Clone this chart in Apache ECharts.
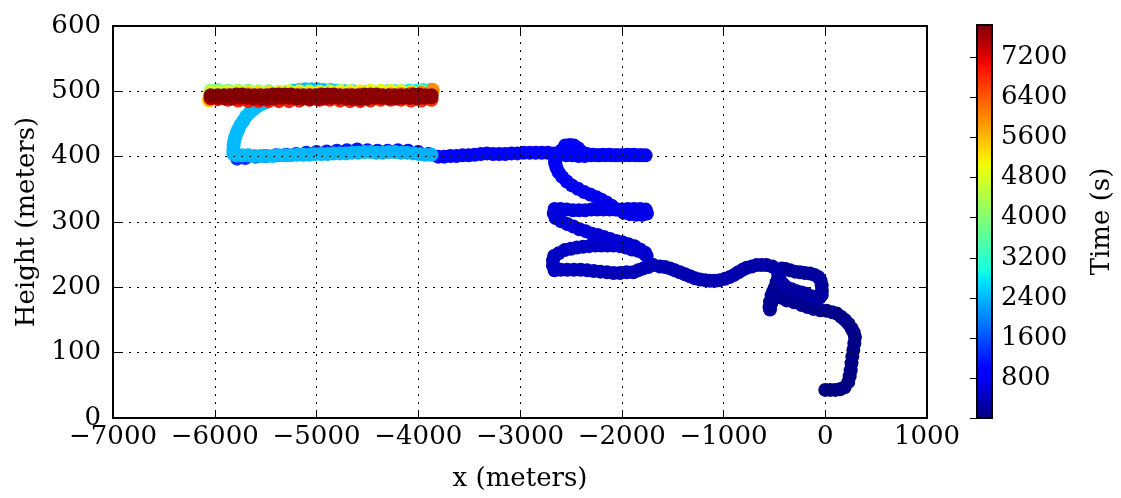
<!DOCTYPE html>
<html>
<head>
<meta charset="utf-8">
<script src="https://cdn.jsdelivr.net/npm/echarts@6/dist/echarts.min.js"></script>
<style>
  html, body { margin: 0; padding: 0; background: #ffffff; }
  #chart { width: 1121px; height: 498px; }
</style>
</head>
<body>
<div id="chart"></div>
<script>
// Flight track samples: [x (m), height (m), time (s)], listed in time order.

// Take-off area, loops near the origin and the low westward run
const launch = [
  [0,43,0],[50,43,4],[100,43,8],[145,44,12],[190,47,16],[226,55,20],[240,64,24],[250,73,28],
  [258,84,32],[266,94,36],[276,104,40],[286,114,44],[292,124,48],[280,131,52],[259,137,56],
  [230,144,60],[194,150,64],[155,155,68],[112,160,72],[65,162,76],[14,164,80],[-50,165,84],
  [-117,167,88],[-175,170,92],[-232,173,96],[-305,177,100],[-379,180,104],[-430,184,108],
  [-477,188,112],[-520,184,116],[-543,178,120],[-548,170,124],[-543,166,128],[-530,176,132],
  [-527,188,136],[-510,194,140],[-494,200,144],[-478,208,148],[-461,216,152],[-445,223,156],
  [-428,229,160],[-390,228,164],[-346,226,168],[-297,224,172],[-248,223,176],[-200,222,180],
  [-150,221,184],[-105,219,188],[-68,216,192],[-45,210,196],[-35,203,200],[-33,195,204],
  [-35,188,208],[-55,184,212],[-84,183,216],[-130,186,220],[-183,190,224],[-232,192,228],
  [-281,194,232],[-330,197,236],[-379,200,240],[-415,205,244],[-445,211,248],[-458,217,252],
  [-470,225,256],[-520,232,260],[-576,234,264],[-625,234,268],[-674,234,272],[-722,232,276],
  [-772,230,280],[-812,227,284],[-854,223,288],[-895,219,292],[-936,216,296],[-985,213,300],
  [-1034,211,304],[-1083,210,308],[-1133,210,312],[-1182,211,316],[-1231,212,320],[-1280,214,324],
  [-1329,217,328],[-1378,220,332],[-1428,223,336],[-1477,226,340],[-1526,229,344],[-1575,231,348],
  [-1624,232,352],[-1690,234,356],[-1740,231,360],[-1788,229,364],[-1840,226,368],[-1887,223,372],
  [-1950,223,376],[-2017,222,380]
];

// Zig-zag climb between 220 m and 400 m
const zigzag = [
  [-2080,222,385],[-2145,223,390],[-2210,224,395],[-2275,225,400],[-2340,226,405],[-2405,227,410],
  [-2470,227,415],[-2535,227,420],[-2600,227,425],[-2660,226,430],[-2676,233,435],[-2676,241,440],
  [-2665,248,445],[-2620,252,450],[-2560,257,455],[-2500,259,460],[-2440,261,465],[-2380,262,470],
  [-2320,263,475],[-2260,264,480],[-2200,264,485],[-2140,264,490],[-2080,264,495],[-2020,263,500],
  [-1960,261,505],[-1900,258,510],[-1840,256,515],[-1790,253,520],[-1755,248,525],
  [-1770,253,530],[-1820,258,535],[-1875,263,540],[-1935,266,545],[-1995,269,550],[-2055,271,555],
  [-2115,274,560],[-2175,277,565],[-2235,280,570],[-2295,282,575],[-2355,286,580],[-2415,289,585],
  [-2475,293,590],[-2535,297,595],[-2595,301,600],[-2650,306,605],
  [-2668,313,610],[-2660,320,615],[-2600,320,620],[-2540,319,625],[-2480,318,630],[-2420,318,635],
  [-2360,318,640],[-2300,319,645],[-2240,319,650],[-2180,319,655],[-2120,319,660],[-2060,319,665],
  [-2000,319,670],[-1940,320,675],[-1880,320,680],[-1820,320,685],[-1765,319,690],[-1752,313,695],
  [-1800,311,700],[-1860,311,705],[-1920,312,710],[-1980,314,715],[-2040,319,720],
  [-2100,325,725],[-2150,330,730],[-2200,334,735],[-2250,338,740],[-2310,342,745],[-2370,346,750],
  [-2430,351,755],[-2490,356,760],[-2540,362,765],[-2585,369,770],[-2620,376,775],[-2642,383,780],
  [-2654,390,785],[-2656,396,790],
  [-2630,402,795],[-2590,410,798],[-2555,417,801],[-2510,418,804],[-2470,417,807],[-2430,413,810],
  [-2390,407,813],[-2340,404,816],[-2280,403,818],[-2220,402,820],[-2160,402,822],[-2100,402,824],
  [-2040,402,826],[-1980,402,828],[-1920,402,830],[-1860,402,832],[-1800,402,834],[-1765,402,836]
];

// First westward run at 400 m
const westRun400 = [
  [-1825,402,840],[-1885,403,845],[-1945,403,850],[-2005,402,855],[-2065,402,860],[-2125,403,865],
  [-2185,403,870],[-2245,402,875],[-2305,402,880],[-2365,401,885],[-2425,401,890],[-2485,402,895],
  [-2545,402,900],[-2605,403,905],[-2665,405,910],[-2725,406,915],[-2785,406,920],[-2845,406,925],
  [-2905,406,930],[-2965,406,935],[-3025,405,940],[-3085,405,945],[-3145,404,950],[-3205,404,955],
  [-3265,404,960],[-3325,405,965],[-3385,404,970],[-3445,403,975],[-3505,402,980],[-3565,402,985],
  [-3625,401,990],[-3685,401,995],[-3745,400,1000],[-3805,400,1005],
  [-3900,404,1025],[-4000,407,1045],[-4100,409,1065],[-4200,410,1085],[-4300,409,1105],
  [-4400,409,1125],[-4500,410,1145],[-4600,411,1165],[-4700,410,1185],[-4800,409,1205],
  [-4900,408,1225],[-5000,407,1245],[-5100,406,1265],[-5200,404,1285],[-5300,403,1300],
  [-5400,402,1315],[-5500,401,1325],[-5600,400,1335],[-5700,398,1345],[-5780,397,1350]
];

// Later westward run at 400 m
const westRun400b = [
  [-3870,403,2330],[-3930,403,2333],[-3990,404,2336],[-4050,405,2339],[-4110,406,2342],
  [-4170,406,2345],[-4230,407,2348],[-4290,407,2351],[-4350,406,2354],[-4410,406,2357],
  [-4470,407,2360],[-4530,407,2363],[-4590,406,2366],[-4650,406,2369],[-4710,405,2372],
  [-4770,405,2375],[-4830,405,2378],[-4890,404,2381],[-4950,404,2384],[-5010,404,2387],
  [-5070,403,2390],[-5130,403,2392],[-5190,403,2394],[-5250,402,2396],[-5310,402,2398],
  [-5370,402,2400],[-5430,401,2402],[-5490,401,2404],[-5550,401,2406],[-5610,401,2408],
  [-5670,402,2410],[-5730,402,2411],[-5790,402,2412]
];

// Turn and climb from 400 m up to 500 m, then east
const climbTo500 = [
  [-5817,404,2414],[-5817,410,2416],[-5815,417,2418],[-5810,423,2420],[-5801,429,2422],
  [-5785,436,2424],[-5768,442,2426],[-5745,449,2428],[-5719,455,2430],[-5690,462,2432],
  [-5654,468,2434],[-5615,473,2436],[-5572,478,2438],[-5530,481,2440],[-5490,484,2442],
  [-5440,488,2445],[-5390,492,2448],[-5340,496,2451],[-5290,499,2454],[-5230,501,2458],
  [-5170,502,2462],[-5110,503,2466],[-5050,503,2470],[-4990,503,2475],[-4930,502,2480],
  [-4860,502,2500],[-4790,501,2520],[-4720,500,2550],[-4650,500,2580],[-4580,499,2610],
  [-4510,499,2640],[-4440,499,2670],[-4370,500,2700],[-4300,500,2730],[-4230,500,2760],
  [-4160,500,2790],[-4090,501,2820],[-4020,501,2850],[-3950,502,2875],[-3880,502,2900]
];

// Back-and-forth legs at 500 m
const leg500a = [
  [-3870,500,3640],[-3970,500,3650],[-4070,499,3660],[-4170,499,3670],[-4270,500,3680],
  [-4370,500,3690],[-4470,499,3700],[-4570,499,3710],[-4670,499,3720],[-4770,498,3730],
  [-4870,499,3740],[-4970,499,3750],[-5070,500,3760],[-5170,499,3770],[-5270,498,3780],
  [-5370,499,3790],[-5470,500,3800],[-5570,500,3810],[-5670,501,3820],[-5770,501,3830],
  [-5870,501,3840],[-5970,502,3850],[-6040,501,3860]
];
const leg500b = [
  [-6040,499,4700],[-5970,499,4710],[-5870,499,4720],[-5770,500,4730],[-5670,499,4740],
  [-5570,499,4750],[-5470,498,4760],[-5370,499,4770],[-5270,500,4780],[-5170,500,4790],
  [-5070,499,4800],[-4970,499,4810],[-4870,500,4820],[-4770,500,4830],[-4670,500,4840],
  [-4570,500,4850],[-4470,501,4860],[-4370,501,4870],[-4270,501,4880],[-4170,500,4890],
  [-4070,499,4895],[-3970,498,4898],[-3870,498,4900]
];
const leg500c = [
  [-3870,497,5200],[-3970,496,5210],[-4070,497,5220],[-4170,497,5230],[-4270,497,5240],
  [-4370,496,5250],[-4470,497,5260],[-4570,497,5270],[-4670,497,5280],[-4770,497,5290],
  [-4870,496,5300],[-4970,497,5310],[-5070,497,5320],[-5170,497,5330],[-5270,496,5340],
  [-5370,497,5350],[-5470,497,5360],[-5570,497,5370],[-5670,497,5380],[-5770,496,5385],
  [-5870,495,5390],[-5970,494,5395],[-6050,491,5398],[-6055,486,5400]
];
const leg500d = [
  [-6050,488,5800],[-5970,492,5810],[-5870,494,5820],[-5770,495,5830],[-5670,495,5840],
  [-5570,494,5850],[-5470,494,5860],[-5370,495,5870],[-5270,494,5880],[-5170,494,5890],
  [-5070,494,5900],[-4970,495,5910],[-4870,494,5920],[-4770,494,5930],[-4670,495,5940],
  [-4570,495,5950],[-4470,494,5960],[-4370,494,5970],[-4270,495,5980],[-4170,496,5985],
  [-4070,497,5990],[-3970,498,5995],[-3870,499,5998],[-3858,502,6000]
];
const leg500e = [
  [-3870,487,6750],[-3970,486,6760],[-4070,486,6770],[-4170,487,6780],[-4270,487,6790],
  [-4370,487,6800],[-4470,486,6810],[-4570,485,6820],[-4670,485,6830],[-4770,486,6840],
  [-4870,487,6850],[-4970,487,6860],[-5070,487,6870],[-5170,486,6880],[-5270,485,6890],
  [-5370,485,6900],[-5470,485,6910],[-5570,485,6920],[-5670,485,6930],[-5770,486,6935],
  [-5870,487,6940],[-5970,488,6945],[-6040,489,6950]
];
const leg500f = [
  [-6040,490,7640],[-5970,490,7644],[-5900,489,7648],[-5830,489,7652],[-5760,490,7656],
  [-5690,490,7660],[-5620,489,7664],[-5550,488,7668],[-5480,488,7672],[-5410,489,7676],
  [-5340,490,7680],[-5270,490,7684],[-5200,489,7688],[-5130,489,7692],[-5060,488,7696],
  [-4990,488,7700],[-4920,489,7703],[-4850,490,7706],[-4780,490,7709],[-4710,489,7712],
  [-4640,488,7715],[-4570,488,7718],[-4500,489,7721],[-4430,490,7724],[-4360,490,7727],
  [-4290,489,7730],[-4220,489,7733],[-4150,490,7736],[-4080,490,7739],[-4010,489,7742],
  [-3940,490,7745],[-3870,491,7748]
];
const leg500g = [
  [-3870,494,7750],[-3930,494,7753],[-3990,495,7756],[-4050,495,7759],[-4110,494,7762],
  [-4170,494,7765],[-4230,494,7768],[-4290,494,7771],[-4350,494,7774],[-4410,495,7777],
  [-4470,495,7780],[-4530,495,7783],[-4590,494,7786],[-4650,494,7789],[-4710,494,7792],
  [-4770,494,7795],[-4830,495,7798],[-4890,495,7801],[-4950,495,7804],[-5010,494,7807],
  [-5070,494,7810],[-5130,494,7813],[-5190,494,7816],[-5250,495,7819],[-5310,495,7822],
  [-5370,495,7825],[-5430,495,7828],[-5490,494,7831],[-5550,494,7834],[-5610,494,7836],
  [-5670,494,7838],[-5730,495,7840],[-5790,495,7842],[-5850,494,7844],[-5910,494,7846],
  [-5970,494,7848],[-6040,494,7850]
];

// Axis and colour-bar ticks
const xTicks = [-7000, -6000, -5000, -4000, -3000, -2000, -1000, 0, 1000];
const yTicks = [0, 100, 200, 300, 400, 500, 600];
const timeTicks = [800, 1600, 2400, 3200, 4000, 4800, 5600, 6400, 7200];
const timeMin = 0;
const timeMax = 7850;

const track = [].concat(launch, zigzag, westRun400, westRun400b, climbTo500,
  leg500a, leg500b, leg500c, leg500d, leg500e, leg500f, leg500g);

// Jet colour map, built from its channel break points
const JET = {
  r: [[0, 0], [0.35, 0], [0.66, 1], [0.89, 1], [1, 0.5]],
  g: [[0, 0], [0.125, 0], [0.375, 1], [0.64, 1], [0.91, 0], [1, 0]],
  b: [[0, 0.5], [0.11, 1], [0.34, 1], [0.65, 0], [1, 0]]
};
function channel(stops, f) {
  for (let i = 1; i < stops.length; i++) {
    if (f <= stops[i][0]) {
      const [x0, y0] = stops[i - 1], [x1, y1] = stops[i];
      return y0 + (y1 - y0) * (f - x0) / (x1 - x0);
    }
  }
  return stops[stops.length - 1][1];
}
const jetColors = [];
for (let i = 0; i <= 128; i++) {
  const f = i / 128;
  const c = k => Math.round(255 * channel(JET[k], f));
  jetColors.push('rgb(' + c('r') + ',' + c('g') + ',' + c('b') + ')');
}

const FONT = 'DejaVu Serif';
const minus = v => String(v).replace('-', '\u2212');

const plot = { left: 113, top: 26, width: 814, height: 392 };
const bar = { left: 977, top: 25, width: 15, height: 393 };

const tickStyle = { inside: true, length: 8, lineStyle: { color: '#000', width: 1 } };
const lineStyle = { onZero: false, lineStyle: { color: '#000', width: 2 } };
const gridLine = { show: true, lineStyle: { color: '#000', width: 1, type: [2, 6] } };
const labelStyle = { color: '#000', fontFamily: FONT, fontSize: 26 };
const nameStyle = { color: '#000', fontFamily: FONT, fontSize: 26 };

const chart = echarts.init(document.getElementById('chart'), null, { renderer: 'canvas' });
chart.setOption({
  animation: false,
  backgroundColor: '#fff',
  grid: [
    Object.assign({ outerBoundsMode: 'none', containLabel: false }, plot),
    Object.assign({ outerBoundsMode: 'none', containLabel: false }, bar)
  ],
  xAxis: [
    {
      gridIndex: 0, type: 'value', position: 'bottom', z: 3,
      min: xTicks[0], max: xTicks[xTicks.length - 1], interval: 1000,
      axisLine: lineStyle, axisTick: tickStyle, splitLine: gridLine,
      axisLabel: Object.assign({ margin: 6, formatter: minus }, labelStyle),
      name: 'x (meters)', nameLocation: 'middle', nameGap: 48,
      nameTextStyle: nameStyle
    },
    {
      gridIndex: 0, type: 'value', position: 'top', z: 3,
      min: xTicks[0], max: xTicks[xTicks.length - 1], interval: 1000,
      axisLine: lineStyle, axisTick: tickStyle, splitLine: { show: false },
      axisLabel: { show: false }
    },
    { gridIndex: 1, type: 'value', show: false, min: 0, max: 1 }
  ],
  yAxis: [
    {
      gridIndex: 0, type: 'value', position: 'left', z: 3,
      min: yTicks[0], max: yTicks[yTicks.length - 1], interval: 100,
      axisLine: lineStyle, axisTick: tickStyle, splitLine: gridLine,
      axisLabel: Object.assign({ margin: 12 }, labelStyle),
      name: 'Height (meters)', nameLocation: 'middle', nameGap: 71, nameRotate: 90,
      nameTextStyle: nameStyle
    },
    {
      gridIndex: 0, type: 'value', position: 'right', z: 3,
      min: yTicks[0], max: yTicks[yTicks.length - 1], interval: 100,
      axisLine: lineStyle, axisTick: tickStyle, splitLine: { show: false },
      axisLabel: { show: false }
    },
    {
      gridIndex: 1, type: 'value', position: 'right', z: 10,
      min: timeMin, max: timeMax, interval: 800,
      axisLine: { show: false }, splitLine: { show: false },
      axisTick: { inside: true, length: 7, lineStyle: { color: '#000', width: 1 } },
      axisLabel: Object.assign({
        margin: 9,
        showMaxLabel: false,
        formatter: v => (timeTicks.indexOf(v) >= 0 ? String(v) : '')
      }, labelStyle),
      name: 'Time (s)', nameLocation: 'middle', nameGap: 97, nameRotate: 90,
      nameTextStyle: nameStyle
    }
  ],
  visualMap: {
    type: 'continuous',
    min: timeMin, max: timeMax,
    dimension: 2, seriesIndex: 0,
    inRange: { color: jetColors },
    calculable: false, showLabel: false,
    itemWidth: bar.width, itemHeight: bar.height,
    left: bar.left, top: bar.top, padding: 0,
    orient: 'vertical'
  },
  graphic: [{
    type: 'rect', z: 100, silent: true,
    shape: { x: bar.left, y: bar.top, width: bar.width, height: bar.height },
    style: { fill: null, stroke: '#000', lineWidth: 2 }
  }],
  series: [{
    type: 'scatter',
    xAxisIndex: 0, yAxisIndex: 0,
    symbol: 'circle', symbolSize: 14,
    large: false, progressive: 0, silent: true, z: 2,
    itemStyle: { opacity: 1 },
    data: track
  }]
});
</script>
</body>
</html>
